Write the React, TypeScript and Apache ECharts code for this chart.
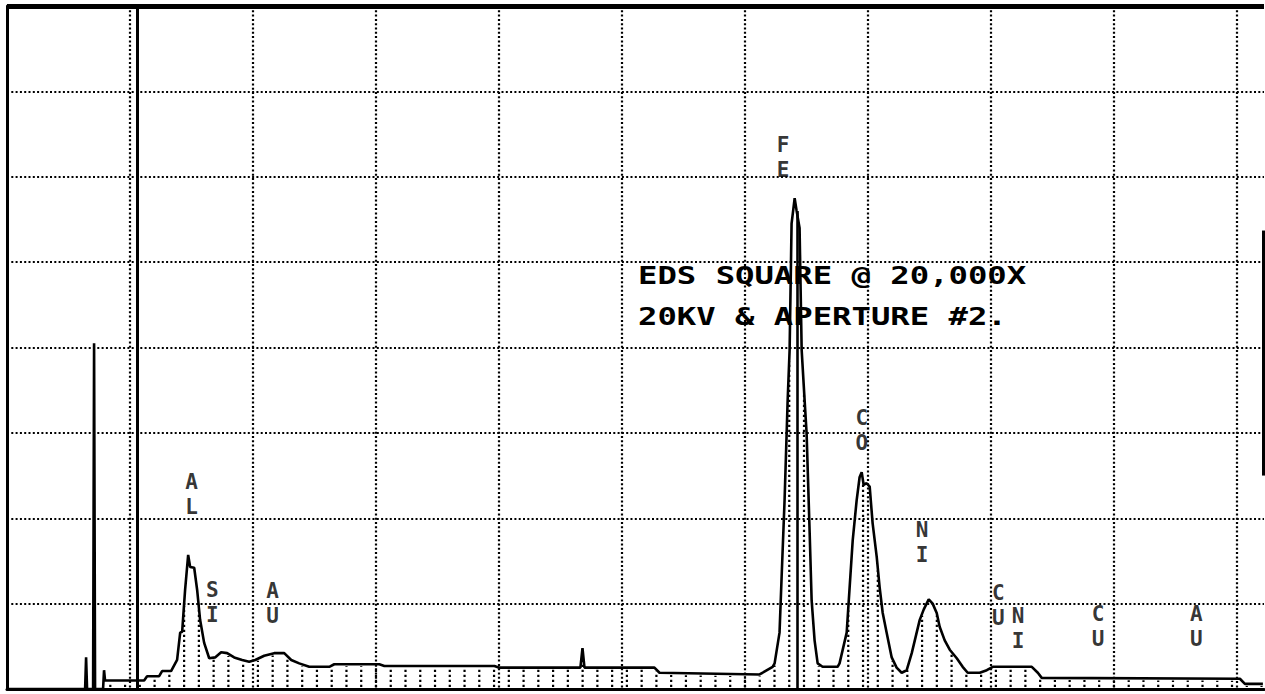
import React, { useEffect, useRef } from "react";
import * as echarts from "echarts";

// Energy (keV) and counts (in grid divisions)
const energyKeV = [
  0, 0.627, 0.635, 0.643, 0.651, 0.7, 0.708, 0.716, 0.781, 0.789, 0.797, 1.115, 1.139, 1.237, 1.261,
  1.334, 1.383, 1.408, 1.424, 1.448, 1.473, 1.489, 1.522, 1.546, 1.57, 1.603, 1.644, 1.692, 1.741,
  1.79, 1.847, 1.912, 1.969, 2.018, 2.091, 2.172, 2.254, 2.311, 2.376, 2.457, 2.62, 2.661, 3.027,
  3.068, 3.963, 4.003, 4.597, 4.662, 4.679, 4.695, 5.264, 5.305, 6.119, 6.225, 6.241, 6.281, 6.298,
  6.322, 6.339, 6.347, 6.363, 6.379, 6.404, 6.42, 6.444, 6.461, 6.485, 6.501, 6.526, 6.542, 6.566,
  6.591, 6.631, 6.753, 6.769, 6.827, 6.851, 6.876, 6.908, 6.932, 6.949, 6.965, 6.989, 7.014, 7.038,
  7.071, 7.095, 7.12, 7.152, 7.193, 7.233, 7.274, 7.315, 7.356, 7.396, 7.421, 7.453, 7.494, 7.526,
  7.559, 7.583, 7.624, 7.665, 7.722, 7.77, 7.811, 7.909, 7.966, 8.015, 8.332, 8.381, 8.413, 10.024,
  10.065, 10.211,
];
const counts = [
  0, 0, 0, 0.37, 0, 0, 4.05, 0, 0, 0.22, 0.1, 0.1, 0.15, 0.15, 0.21,
  0.21, 0.34, 0.66, 0.67, 1.16, 1.57, 1.43, 1.42, 1.16, 0.81, 0.54, 0.36, 0.37, 0.43,
  0.42, 0.37, 0.34, 0.32, 0.34, 0.39, 0.42, 0.42, 0.34, 0.3, 0.26, 0.26, 0.29, 0.29,
  0.27, 0.27, 0.25, 0.25, 0.25, 0.48, 0.25, 0.25, 0.19, 0.17, 0.26, 0.3, 0.66, 1.31,
  2.21, 3.0, 3.38, 3.97, 5.45, 5.75, 5.6, 5.4, 3.97, 3.38, 3.0, 1.83, 1.04, 0.57,
  0.3, 0.26, 0.26, 0.3, 0.66, 1.19, 1.74, 2.21, 2.48, 2.54, 2.39, 2.41, 2.37, 1.94,
  1.55, 1.19, 0.89, 0.66, 0.37, 0.25, 0.19, 0.22, 0.42, 0.66, 0.81, 0.93, 1.05, 1.0,
  0.89, 0.73, 0.57, 0.46, 0.36, 0.26, 0.19, 0.19, 0.22, 0.26, 0.26, 0.19, 0.13, 0.12,
  0.06, 0.06,
];

// Element peak labels
const labelNames = ["A\nL", "S\nI", "A\nU", "F\nE", "C\nO", "N\nI", "C\nU", "N\nI", "C\nU", "A\nU"];
const labelKeV = [1.5, 1.67, 2.16, 6.31, 6.95, 7.44, 8.06, 8.22, 8.87, 9.67];
const labelLevel = [2.28, 1.01, 1.0, 6.23, 3.03, 1.72, 0.98, 0.71, 0.73, 0.73];

// Markers
const cursorKeV = 1.058;
const feMarkerKeV = 6.428;
const feMarkerTop = 5.6;

const annotationLines = ["EDS SQUARE @ 20,000X", "20KV & APERTURE #2."];

const X_MAX = 10.22;
const Y_MAX = 8;
const CHANNEL_STEP = 0.12;

const FONT = "'DejaVu Sans Mono', 'Liberation Mono', monospace";

export default function App() {
  const ref = useRef<HTMLDivElement>(null);

  useEffect(() => {
    if (!ref.current) return;
    const chart = echarts.init(ref.current, undefined, { renderer: "svg" });
    const spectrum = energyKeV.map((e, i) => [e, counts[i]]);

    const dotted = { color: "#000", width: 2.2, type: [2, 2.3] as any };

    const option: any = {
      animation: false,
      backgroundColor: "#fff",
      grid: { left: 7, right: 1, top: 6, bottom: 5, containLabel: false },
      xAxis: {
        type: "value",
        min: 0,
        max: X_MAX,
        interval: 1,
        axisLine: { show: true, onZero: false, lineStyle: { color: "#000", width: 3 } },
        axisTick: { show: false },
        axisLabel: { show: false },
        splitLine: { show: true, showMinLine: false, showMaxLine: false, lineStyle: dotted },
      },
      yAxis: {
        type: "value",
        min: 0,
        max: Y_MAX,
        interval: 1,
        axisLine: { show: true, onZero: false, lineStyle: { color: "#000", width: 3 } },
        axisTick: { show: false },
        axisLabel: { show: false },
        splitLine: { show: true, showMinLine: false, showMaxLine: false, lineStyle: dotted },
      },
      series: [
        {
          type: "custom",
          name: "fill",
          coordinateSystem: "cartesian2d",
          silent: true,
          clip: true,
          z: 1,
          data: spectrum,
          encode: { x: 0, y: 1 },
          renderItem: (params: any, api: any) => {
            const i = params.dataIndex;
            if (i >= spectrum.length - 1) return null;
            const [x0, y0] = spectrum[i];
            const [x1, y1] = spectrum[i + 1];
            const children: any[] = [];
            let k = Math.ceil(x0 / CHANNEL_STEP - 1e-9);
            for (; k * CHANNEL_STEP < x1 - 1e-9; k++) {
              const x = k * CHANNEL_STEP;
              const t = x1 === x0 ? 0 : (x - x0) / (x1 - x0);
              const v = y0 + t * (y1 - y0);
              const top = api.coord([x, v]);
              const bot = api.coord([x, 0]);
              if (bot[1] - top[1] < 4) continue;
              children.push({
                type: "line",
                shape: { x1: top[0], y1: bot[1] - 2, x2: top[0], y2: top[1] + 2 },
                style: { stroke: "#000", lineWidth: 2.2, lineDash: [2.2, 2.8] },
              });
            }
            return { type: "group", children };
          },
        },
        {
          type: "line",
          name: "spectrum",
          data: spectrum,
          showSymbol: false,
          symbol: "none",
          z: 3,
          lineStyle: { color: "#000", width: 2.6 },
          markLine: {
            silent: true,
            symbol: ["none", "none"],
            label: { show: false },
            animation: false,
            data: [
              [
                { coord: [cursorKeV, 0], lineStyle: { color: "#000", width: 3, type: "solid" } },
                { coord: [cursorKeV, Y_MAX] },
              ],
              [
                { coord: [feMarkerKeV, 0], lineStyle: { color: "#000", width: 2.6, type: "solid" } },
                { coord: [feMarkerKeV, feMarkerTop] },
              ],
              [
                { coord: [0, Y_MAX], lineStyle: { color: "#000", width: 5, type: "solid" } },
                { coord: [X_MAX, Y_MAX] },
              ],
              [
                { coord: [10.21, 2.5], lineStyle: { color: "#000", width: 3, type: "solid" } },
                { coord: [10.21, 5.37] },
              ],
            ],
          },
        },
        {
          type: "scatter",
          name: "labels",
          silent: true,
          z: 4,
          symbolSize: 1,
          itemStyle: { color: "rgba(0,0,0,0)" },
          data: labelKeV.map((e, i) => [e, labelLevel[i], labelNames[i]]),
          label: {
            show: true,
            position: "inside",
            formatter: (p: any) => p.data[2],
            fontFamily: FONT,
            fontSize: 21,
            fontWeight: "bold",
            lineHeight: 25,
            color: "#000",
          },
        },
      ],
      graphic: annotationLines.map((t, i) => ({
        type: "text",
        x: 638,
        y: 275 + i * 41,
        scaleX: 1.29,
        silent: true,
        z: 10,
        style: {
          text: t,
          font: `bold 25px ${FONT}`,
          fill: "#000",
          verticalAlign: "middle",
          align: "left",
        },
      })),
    };

    chart.setOption(option);
    return () => chart.dispose();
  }, []);

  return (
    <div
      ref={ref}
      style={{ position: "fixed", left: 0, top: 0, width: 1265, height: 694, background: "#fff" }}
    />
  );
}
